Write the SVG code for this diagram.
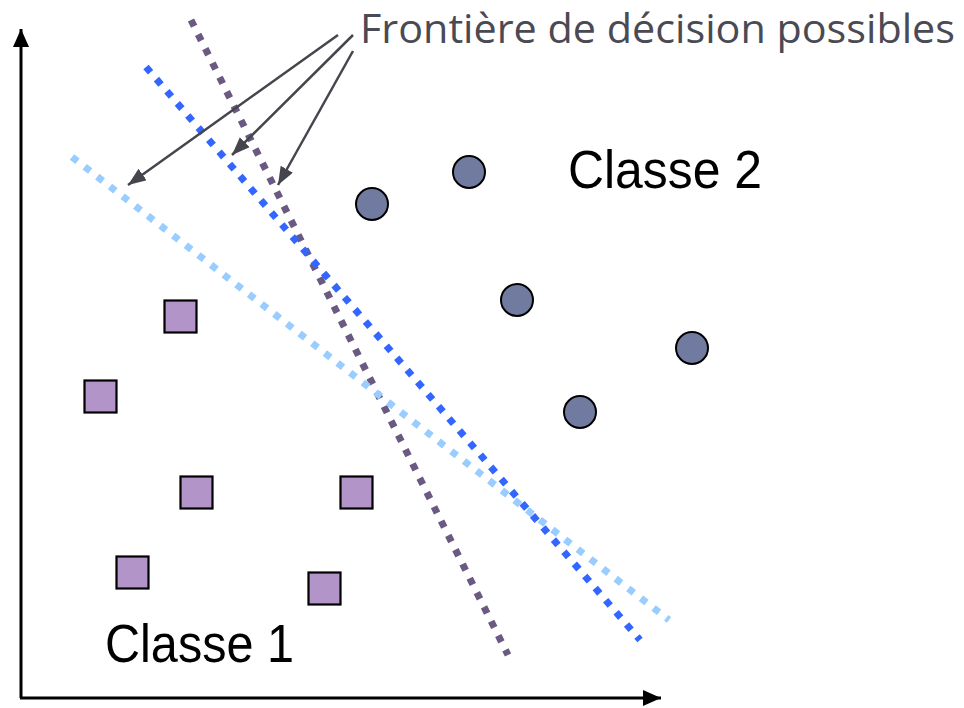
<svg xmlns="http://www.w3.org/2000/svg" width="964" height="708" viewBox="0 0 964 708">
<style>
.axis{stroke:#000;stroke-width:3;fill:none}
.dot{fill:none;stroke-width:7;stroke-dasharray:7 9}
.c2{fill:#717ba0;stroke:#000;stroke-width:2}
.c1{fill:#b394c8;stroke:#000;stroke-width:2.2}
.lbl{font-family:"Liberation Sans",Arial,sans-serif;font-size:54px;fill:#000}
.ttl{font-family:"Open Sans","DejaVu Sans",sans-serif;font-size:41px;fill:#4a4a54}
.ptr{stroke:#45454d;stroke-width:2.5;fill:none}
</style>
<defs>
<marker id="ah" markerUnits="userSpaceOnUse" markerWidth="20" markerHeight="16" refX="18" refY="7" orient="auto">
<path d="M0,0 L18,7 L0,14 Z" fill="#45454d"/>
</marker>
<marker id="ax" markerUnits="userSpaceOnUse" markerWidth="20" markerHeight="18" refX="18" refY="8" orient="auto">
<path d="M0,0 L18,8 L0,16 Z" fill="#000"/>
</marker>
</defs>
<g id="axes">
<line class="axis" x1="21" y1="698" x2="21" y2="29" marker-end="url(#ax)"/>
<line class="axis" x1="20" y1="698" x2="661" y2="698" marker-end="url(#ax)"/>
</g>
<g id="boundaries">
<line class="dot" stroke="#6a5a82" x1="191" y1="20" x2="508" y2="655"/>
<line class="dot" stroke="#3366ff" x1="146" y1="67" x2="640" y2="640"/>
<line class="dot" stroke="#99ccff" x1="72" y1="157" x2="669" y2="620"/>
</g>
<g id="class2">
<circle class="c2" cx="372" cy="204" r="16"/>
<circle class="c2" cx="469" cy="172" r="16"/>
<circle class="c2" cx="517" cy="300" r="16"/>
<circle class="c2" cx="692" cy="348" r="16"/>
<circle class="c2" cx="580" cy="412" r="16"/>
</g>
<g id="class1">
<rect class="c1" x="164.5" y="300.5" width="32" height="32"/>
<rect class="c1" x="84.5" y="380.5" width="32" height="32"/>
<rect class="c1" x="180.5" y="476.5" width="32" height="32"/>
<rect class="c1" x="340.5" y="476.5" width="32" height="32"/>
<rect class="c1" x="116.5" y="556.5" width="32" height="32"/>
<rect class="c1" x="308.5" y="572.5" width="32" height="32"/>
</g>
<g id="labels">
<text class="lbl" x="568" y="188" textLength="194" lengthAdjust="spacingAndGlyphs">Classe 2</text>
<text class="lbl" x="105" y="662" textLength="189" lengthAdjust="spacingAndGlyphs">Classe 1</text>
<text class="ttl" x="360" y="43" textLength="595" lengthAdjust="spacingAndGlyphs">Frontière de décision possibles</text>
</g>
<g id="connectors">
<line class="ptr" x1="338" y1="35" x2="128" y2="185" marker-end="url(#ah)"/>
<line class="ptr" x1="353" y1="35" x2="232" y2="155" marker-end="url(#ah)"/>
<line class="ptr" x1="353" y1="51" x2="278" y2="185" marker-end="url(#ah)"/>
</g>
</svg>
